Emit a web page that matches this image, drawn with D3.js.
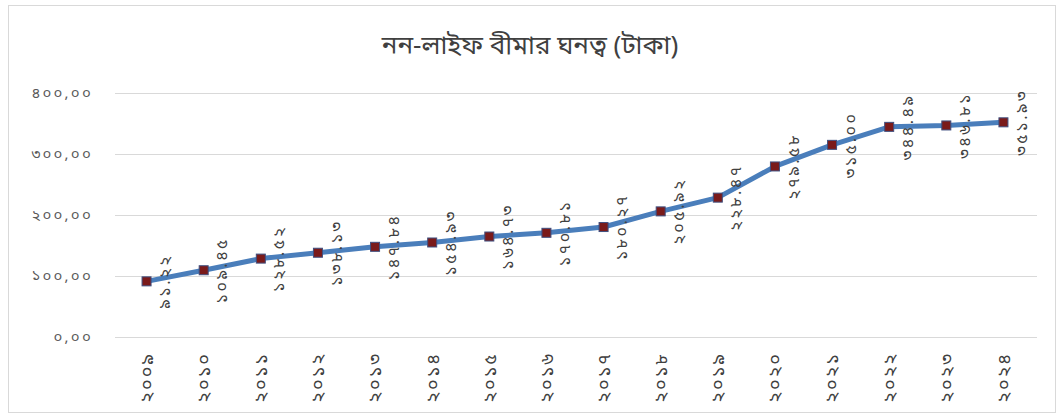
<!DOCTYPE html>
<html>
<head>
<meta charset="utf-8">
<script src="https://cdn.jsdelivr.net/npm/d3@7"></script>
<style>
  html, body { margin: 0; padding: 0; background: #ffffff; }
  svg { display: block; }
  text { font-family: "Noto Sans Bengali", "Noto Serif Bengali", "Lohit Bengali", "Vrinda", "Nirmala UI", "FreeSerif", "Noto Sans", sans-serif; }
</style>
</head>
<body>
<svg id="chart" width="1061" height="417"></svg>
<script>
const title = "নন-লাইফ বীমার ঘনত্ব (টাকা)";
const years = ["২০০৯","২০১০","২০১১","২০১২","২০১৩","২০১৪","২০১৫","২০১৬","২০১৭","২০১৮","২০১৯","২০২০","২০২১","২০২২","২০২৩","২০২৪"];
const values = [91.22, 109.45, 128.52, 138.13, 147.84, 154.93, 164.73, 170.81, 180.27, 205.92, 228.47, 279.58, 315.00, 344.49, 346.81, 351.93];
const yTicks = [0, 100, 200, 300, 400];

const bnDigits = "০১২৩৪৫৬৭৮৯";
const toBn = s => String(s).replace(/[0-9]/g, d => bnDigits[+d]);

const svg = d3.select("#chart");
const W = 1061, H = 417;

// outer frame
svg.append("rect").attr("x", 8.5).attr("y", 5.5).attr("width", W - 14).attr("height", H - 10)
  .attr("fill", "#ffffff").attr("stroke", "#d9d9d9").attr("stroke-width", 1);

const x = d3.scalePoint().domain(years).range([118, 1032]).padding(0.5);
const y = d3.scaleLinear().domain([0, 400]).range([337, 93]);

// gridlines
svg.append("g").selectAll("line").data(yTicks).join("line")
  .attr("x1", 115).attr("x2", 1037)
  .attr("y1", d => Math.round(y(d)) + 0.5).attr("y2", d => Math.round(y(d)) + 0.5)
  .attr("stroke", "#d9d9d9").attr("stroke-width", 1);

// y tick labels
svg.append("g").selectAll("text").data(yTicks).join("text")
  .attr("x", 93).attr("y", d => y(d)).attr("dy", "0.35em")
  .attr("text-anchor", "end").attr("font-size", 15).attr("letter-spacing", 2.2)
  .attr("fill", "#595959")
  .text(d => toBn(d3.format(".2f")(d).replace(".", ",")));

// x labels
svg.append("g").selectAll("text").data(years).join("text")
  .attr("transform", d => `translate(${x(d)},352) rotate(-90)`)
  .attr("dy", "0.35em").attr("text-anchor", "end")
  .attr("font-size", 18).attr("letter-spacing", 2).attr("fill", "#404040")
  .text(d => d);

// line
const line = d3.line().x((d, i) => x(years[i])).y(d => y(d));
svg.append("path").datum(values).attr("d", line)
  .attr("fill", "none").attr("stroke", "#4a7ebb").attr("stroke-width", 5)
  .attr("stroke-linejoin", "round").attr("stroke-linecap", "round");

// markers
svg.append("g").selectAll("rect").data(values).join("rect")
  .attr("x", (d, i) => x(years[i]) - 4.5).attr("y", d => y(d) - 4.5)
  .attr("width", 9).attr("height", 9)
  .attr("fill", "#7a1a1a").attr("stroke", "#3f4f7f").attr("stroke-width", 1);

// data labels
svg.append("g").selectAll("text").data(values).join("text")
  .attr("transform", (d, i) => `translate(${x(years[i]) + 18},${y(d)}) rotate(-90)`)
  .attr("dy", "0.35em").attr("text-anchor", "middle")
  .attr("font-size", 16).attr("letter-spacing", 2.5).attr("fill", "#404040")
  .text(d => toBn(d3.format(".2f")(d)));

// title
svg.append("text").attr("x", 530).attr("y", 45).attr("dy", "0.35em")
  .attr("text-anchor", "middle").attr("font-size", 26).attr("fill", "#404040")
  .text(title);
</script>
</body>
</html>
